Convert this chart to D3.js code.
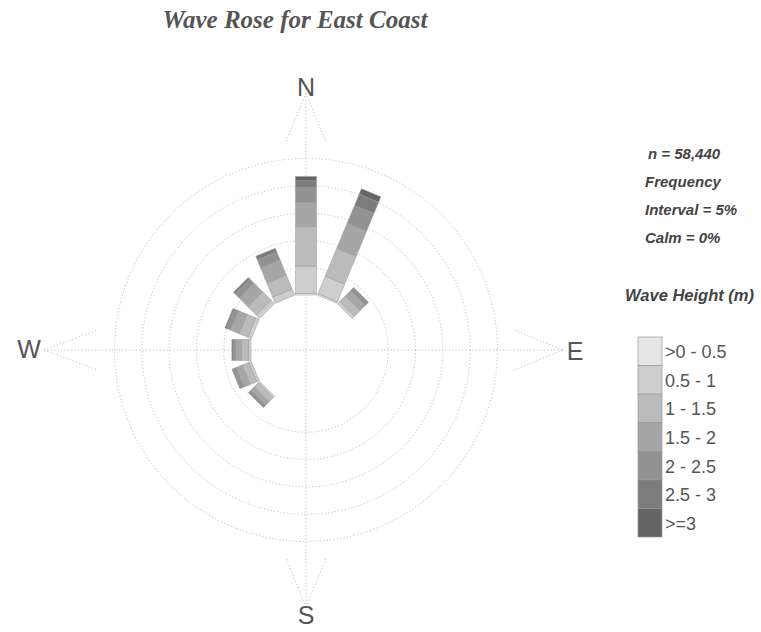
<!DOCTYPE html>
<html>
<head>
<meta charset="utf-8">
<script src="https://cdn.jsdelivr.net/npm/d3@7"></script>
<style>
  html, body { margin: 0; padding: 0; background: #fff; }
  svg { display: block; }
</style>
</head>
<body>
<svg id="chart" width="761" height="632"></svg>
<script>
// Direction sectors (compass degrees) and wave-height classes
const directions = ["N","NNE","NE","ENE","E","ESE","SE","SSE","S","SSW","SW","WSW","W","WNW","NW","NNW"];
const heightClasses = [">0 - 0.5", "0.5 - 1", "1 - 1.5", "1.5 - 2", "2 - 2.5", "2.5 - 3", ">=3"];
const classColors = ["#e6e6e6", "#cecece", "#bbbbbb", "#a6a6a6", "#929292", "#7c7c7c", "#656565"];

// Frequency (%) per direction, one value per wave-height class
const freqN   = [0.3, 5.0, 7.3, 4.4, 2.7, 1.2, 0.8];
const freqNNE = [0.3, 3.5, 5.5, 5.0, 3.5, 2.2, 1.1];
const freqNE  = [0.0, 0.6, 1.4, 1.4, 0.6, 0.2, 0.0];
const freqSW  = [0.0, 0.4, 1.0, 0.9, 0.4, 0.2, 0.0];
const freqWSW = [0.0, 0.5, 1.3, 1.2, 0.6, 0.2, 0.0];
const freqW   = [0.0, 0.5, 1.2, 1.1, 0.5, 0.2, 0.0];
const freqWNW = [0.0, 0.7, 1.7, 1.7, 0.8, 0.3, 0.0];
const freqNW  = [0.0, 0.9, 2.2, 2.2, 1.1, 0.4, 0.0];
const freqNNW = [0.0, 1.2, 2.8, 3.0, 1.6, 0.7, 0.0];

const ringTicks = [5, 10, 15, 20, 25];
const statLines = ["n = 58,440", "Frequency", "Interval = 5%", "Calm = 0%"];
const cardinals = [["N", 0], ["E", 90], ["S", 180], ["W", 270]];

const rows = [
  ["N", freqN], ["NNE", freqNNE], ["NE", freqNE], ["SW", freqSW], ["WSW", freqWSW],
  ["W", freqW], ["WNW", freqWNW], ["NW", freqNW], ["NNW", freqNNW]
].map(([dir, vals]) => {
  const o = { dir };
  heightClasses.forEach((c, i) => o[c] = vals[i]);
  return o;
});

const svg = d3.select("#chart");
const cx = 306, cy = 350;
const hole = 55;
const r = d3.scaleLinear().domain([0, 5]).range([hole, hole + 27.3]);
const angle = d3.scalePoint().domain(directions).range([0, 337.5]);

const g = svg.append("g").attr("transform", `translate(${cx},${cy})`);

// Frequency rings
g.selectAll("circle.ring").data(ringTicks).join("circle")
  .attr("class", "ring")
  .attr("r", d => r(d))
  .attr("fill", "none")
  .attr("stroke", "#c0c0c0")
  .attr("stroke-width", 1)
  .attr("stroke-dasharray", "1.2,2.2");

// Compass cross-hair
const tipR = 257;
g.append("line").attr("x1", 0).attr("x2", 0).attr("y1", -tipR).attr("y2", tipR)
  .attr("stroke", "#bdbdbd").attr("stroke-dasharray", "1.2,2.2");
g.append("line").attr("y1", 0).attr("y2", 0).attr("x1", -tipR - 5).attr("x2", tipR)
  .attr("stroke", "#bdbdbd").attr("stroke-dasharray", "1.2,2.2");

// Compass arrow heads
const baseR = 208, halfW = 20;
cardinals.forEach(([lab, deg]) => {
  const a = g.append("g").attr("transform", `rotate(${deg})`);
  [-halfW, halfW].forEach(hw => {
    a.append("line")
      .attr("x1", 0).attr("y1", -(lab === "W" ? tipR + 5 : tipR))
      .attr("x2", hw).attr("y2", -baseR)
      .attr("stroke", "#c4c4c4").attr("stroke-dasharray", "1.2,2.2");
  });
});

// Cardinal labels
const labelPos = { N: [0, -254], E: [269, 10], S: [0, 274], W: [-277, 8] };
g.selectAll("text.card").data(cardinals).join("text")
  .attr("class", "card")
  .attr("x", d => labelPos[d[0]][0])
  .attr("y", d => labelPos[d[0]][1])
  .attr("text-anchor", "middle")
  .attr("font-family", "Liberation Sans, Arial, sans-serif")
  .attr("font-size", 25)
  .attr("fill", "#555")
  .text(d => d[0]);

// Stacked bars per direction
const stack = d3.stack().keys(heightClasses);
const series = stack(rows);
const barW = 21;

series.forEach((s, ci) => {
  g.selectAll(`rect.c${ci}`).data(s.filter(d => d[1] - d[0] > 0)).join("rect")
    .attr("class", `c${ci}`)
    .attr("transform", d => `rotate(${angle(d.data.dir)})`)
    .attr("x", -barW / 2)
    .attr("width", barW)
    .attr("y", d => -r(d[1]))
    .attr("height", d => r(d[1]) - r(d[0]))
    .attr("fill", classColors[ci])
    .attr("stroke", "#999")
    .attr("stroke-width", 0.5);
});

// Title
svg.append("text")
  .attr("x", 295).attr("y", 28)
  .attr("text-anchor", "middle")
  .attr("font-family", "Liberation Serif, Times New Roman, serif")
  .attr("font-style", "italic").attr("font-weight", "bold")
  .attr("font-size", 25)
  .attr("fill", "#555")
  .text("Wave Rose for East Coast");

// Statistics block
svg.selectAll("text.stat").data(statLines).join("text")
  .attr("class", "stat")
  .attr("x", (d, i) => i === 0 ? 648 : 645)
  .attr("y", (d, i) => 159 + i * 28)
  .attr("font-family", "Liberation Sans, Arial, sans-serif")
  .attr("font-style", "italic").attr("font-weight", "bold")
  .attr("font-size", 15)
  .attr("fill", "#444")
  .text(d => d);

// Legend
svg.append("text")
  .attr("x", 625).attr("y", 301)
  .attr("font-family", "Liberation Sans, Arial, sans-serif")
  .attr("font-style", "italic").attr("font-weight", "bold")
  .attr("font-size", 16.5)
  .attr("fill", "#444")
  .text("Wave Height (m)");

const legY = d3.scaleBand().domain(heightClasses).range([337, 537]);
const leg = svg.append("g");
leg.selectAll("rect").data(heightClasses).join("rect")
  .attr("x", 638).attr("width", 24)
  .attr("y", d => legY(d)).attr("height", legY.bandwidth())
  .attr("fill", (d, i) => classColors[i])
  .attr("stroke", "#999").attr("stroke-width", 0.7);
leg.selectAll("text").data(heightClasses).join("text")
  .attr("x", 665)
  .attr("y", d => legY(d) + legY.bandwidth() / 2 + 7)
  .attr("font-family", "Liberation Sans, Arial, sans-serif")
  .attr("font-size", 18)
  .attr("fill", "#555")
  .text(d => d);
</script>
</body>
</html>
